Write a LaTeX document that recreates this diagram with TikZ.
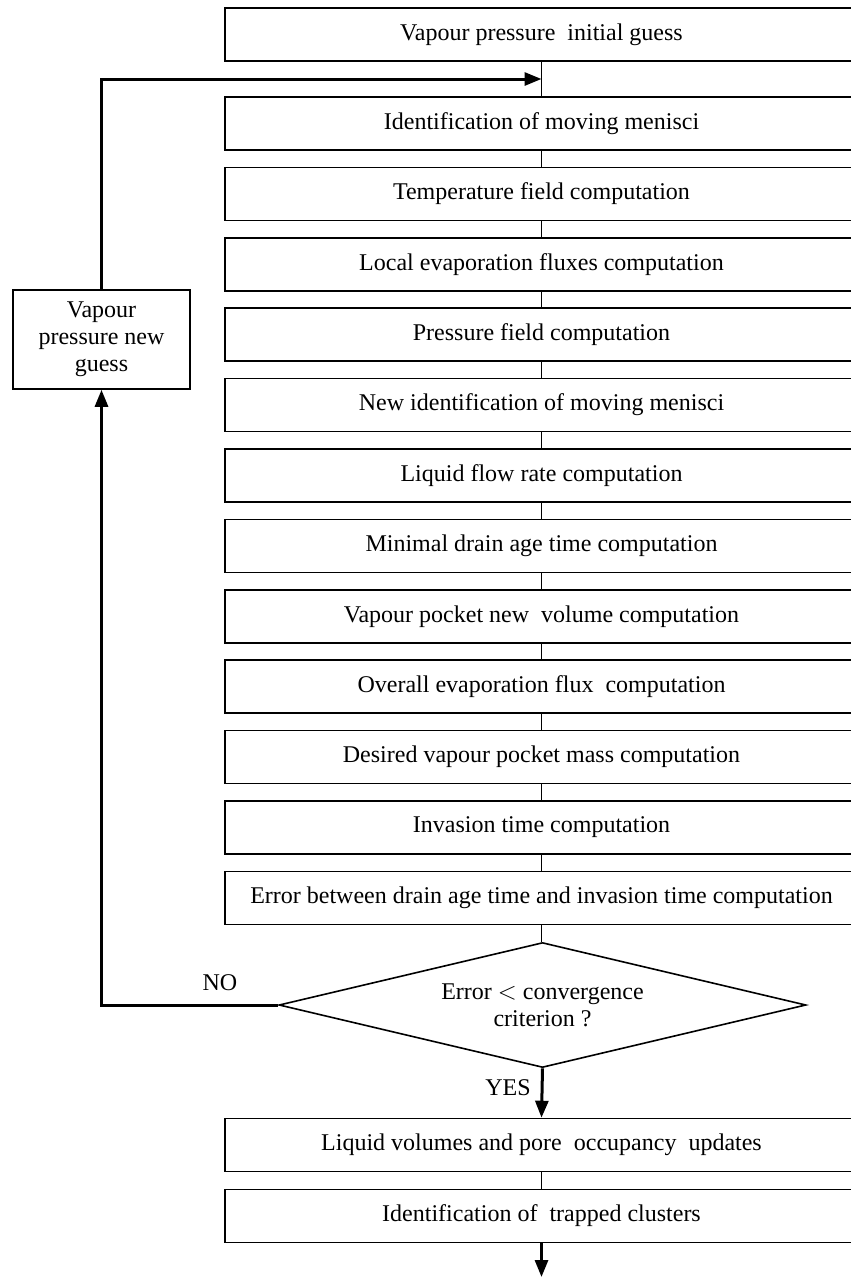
\documentclass[tikz,border=0pt]{standalone}
\usepackage{fontspec}
\setmainfont{Liberation Serif}
\usetikzlibrary{arrows.meta,shapes.geometric}
\begin{document}
\begin{tikzpicture}[x=1pt,y=-1pt,
  proc/.style={draw,line width=1.6pt,minimum width=633pt,minimum height=53pt,inner sep=0pt,font=\fontsize{24}{27}\selectfont},
  decide/.style={draw,diamond,shape aspect=4.2,line width=1.6pt,minimum width=527pt,minimum height=125pt,inner sep=0pt,align=center,font=\fontsize{24}{27}\selectfont},
  side/.style={draw,line width=1.6pt,minimum width=177pt,minimum height=99pt,inner sep=0pt,align=center,font=\fontsize{24}{27}\selectfont},
  lbl/.style={font=\fontsize{24}{27}\selectfont,inner sep=0pt},
  link/.style={line width=1pt},
  loopline/.style={line width=3pt,line join=miter},
  tip/.style={-{Triangle[length=17pt,width=13pt]}}
]
\useasboundingbox (0,0) rectangle (851,1277);
\clip (0,0) rectangle (851,1277);

\node[proc] (b1) at (541.5,34.5) {Vapour pressure\ \ initial guess};
\node[proc] (b2) at (541.5,123.5) {Identification of moving menisci};
\node[proc] (b3) at (541.5,193.9) {Temperature field computation};
\node[proc] (b4) at (541.5,264.3) {Local evaporation fluxes computation};
\node[proc] (b5) at (541.5,334.7) {Pressure field computation};
\node[proc] (b6) at (541.5,405.1) {New identification of moving menisci};
\node[proc] (b7) at (541.5,475.5) {Liquid flow rate computation};
\node[proc] (b8) at (541.5,545.9) {Minimal drain age time computation};
\node[proc] (b9) at (541.5,616.3) {Vapour pocket new\ \ volume computation};
\node[proc] (b10) at (541.5,686.7) {Overall evaporation flux\ \ computation};
\node[proc] (b11) at (541.5,757.1) {Desired vapour pocket mass computation};
\node[proc] (b12) at (541.5,827.5) {Invasion time computation};
\node[proc] (b13) at (541.5,897.9) {Error between drain age time and invasion time computation};
\node[decide] (dia) at (542.5,1005) {Error $<$ convergence\\criterion ?};
\node[proc] (b14) at (541.5,1145) {Liquid volumes and pore\ \ occupancy\ \ updates};
\node[proc] (b15) at (541.5,1216) {Identification of\ \ trapped clusters};

\node[side] (newg) at (101.5,339.5) {Vapour\\pressure new\\guess};

\coordinate (join) at (541.5,79);
\coordinate (out) at (541.5,1277);

\draw[link] (b1.south) -- (b2.north);
\foreach \a/\b in {b2/b3,b3/b4,b4/b5,b5/b6,b6/b7,b7/b8,b8/b9,b9/b10,b10/b11,b11/b12,b12/b13,b14/b15}
  \draw[link] (\a.south) -- (\b.north);
\draw[link] (b13.south) -- (b13.south |- dia.north);

\draw[loopline,tip] (dia.west) -| (newg.south);
\draw[loopline,tip] (newg.north) |- (join);
\draw[loopline,tip] (dia.south) -- (b14.north);
\draw[loopline,tip] (b15.south) -- (out);

\node[lbl] (no) at (220,983) {NO};
\node[lbl] (yes) at (508,1088) {YES};
\end{tikzpicture}
\end{document}
